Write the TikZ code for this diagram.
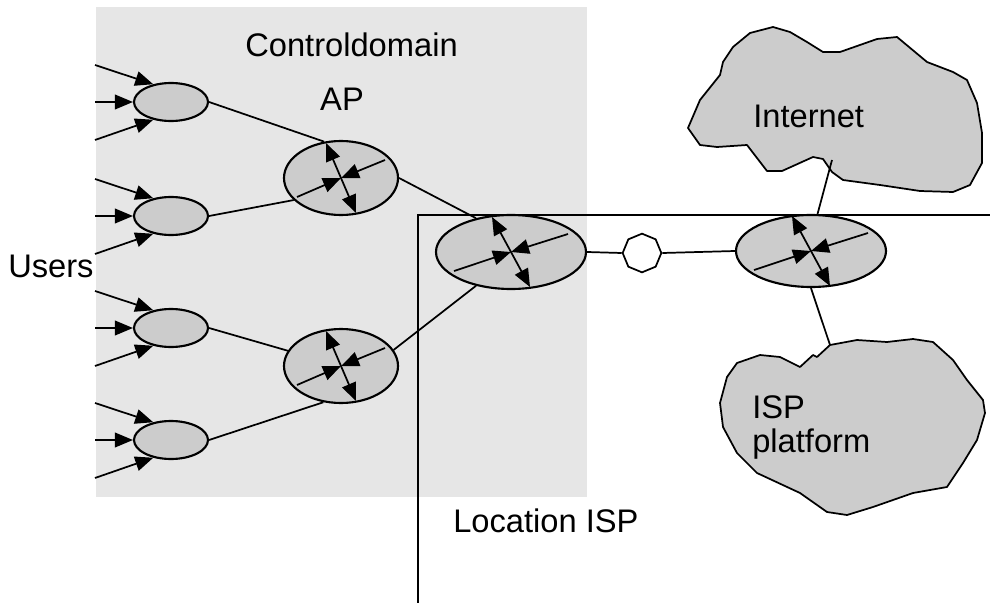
\documentclass[tikz,border=0pt]{standalone}
\usepackage{fontspec}
\setmainfont{Liberation Sans}
\usetikzlibrary{arrows.meta,shapes.geometric}
\definecolor{domaingray}{HTML}{E6E6E6}
\definecolor{nodegray}{HTML}{CCCCCC}

% Router symbol: two inward arrows on a slant and one steep double arrow
% #1 node name, #2 reach of the slanted arrows, #3 reach of the steep arrow
\newcommand\routerglyph[3]{%
  \begin{scope}[shift={(#1.center)}]
    \draw[link,tip] (-#2,19) -- (0,0);
    \draw[link,tip] (#2,-18) -- (0,0);
    \draw[link,twotip] (-#3,-35) -- (#3,35);
  \end{scope}}

\begin{document}
\begin{tikzpicture}[x=0.75pt,y=-0.75pt,
  link/.style={line width=1.3pt},
  tip/.style={-{Triangle[length=13.5pt,width=11pt]}},
  twotip/.style={{Triangle[length=13.5pt,width=11pt]}-{Triangle[length=13.5pt,width=11pt]}},
  hop/.style={ellipse, draw, line width=1.6pt, fill=nodegray, inner sep=0pt},
  usernode/.style={hop, minimum width=55.5pt, minimum height=28.5pt},
  apnode/.style={hop, minimum width=85.5pt, minimum height=55.5pt},
  corenode/.style={hop, minimum width=112.5pt, minimum height=55.5pt},
  cloudshape/.style={draw, line width=1.3pt, fill=nodegray, line join=round},
  txt/.style={font=\fontsize{24.5}{29}\selectfont, inner sep=0pt}
]
\useasboundingbox (0,0) rectangle (990,603);

% control domain area
\fill[domaingray] (96,7) rectangle (587,497);

% border of the ISP location
\coordinate (locend) at (990,215);
\coordinate (loccorner) at (418,215);
\coordinate (locbottom) at (418,603);
\draw[link] (locend) -- (loccorner) -- (locbottom);

% clouds
\draw[cloudshape] (688,128) -- (700,145) -- (717,147) -- (747,145) -- (767,171)
  -- (782,171) -- (813,157) -- (823,159) -- (832,172) -- (843,180) -- (880,185)
  -- (920,191) -- (953,192) -- (970,185) -- (982,163) -- (982,133) -- (977,103)
  -- (967,80) -- (953,72) -- (927,62) -- (897,37) -- (877,39) -- (840,52)
  -- (823,52) -- (807,42) -- (790,32) -- (773,27) -- (750,33) -- (733,47)
  -- (723,62) -- (720,75) -- (700,100) -- cycle;
\coordinate (inetlink) at (832,160);

\draw[cloudshape] (830,345) -- (857,340) -- (887,342) -- (913,339) -- (933,342)
  -- (953,360) -- (967,380) -- (983,400) -- (985,413) -- (977,440) -- (963,463)
  -- (947,487) -- (913,493) -- (873,507) -- (847,515) -- (827,512) -- (800,493)
  -- (757,473) -- (737,453) -- (723,427) -- (720,403) -- (727,377) -- (737,363)
  -- (760,355) -- (780,357) -- (800,367) -- (813,355) -- (817,357) -- cycle;
\coordinate (isplink) at (830,345);

% user access nodes with their incoming lines
\foreach \i/\cy in {1/102,2/216,3/328,4/440}{
  \node[usernode] (u\i) at (171,\cy) {};
  \coordinate (in\i t) at (95,\cy-37);
  \coordinate (in\i m) at (95,\cy);
  \coordinate (in\i b) at (95,\cy+38);
  \draw[link,tip] (in\i t) -- (u\i.135);
  \draw[link,tip] (in\i m) -- (u\i.west);
  \draw[link,tip] (in\i b) -- (u\i.225);
}

% routers
\node[apnode] (ap1) at (341,178) {};
\node[apnode] (ap2) at (341,366) {};
\node[corenode] (isp) at (511,252) {};
\node[corenode, minimum height=54pt] (gw) at (811,251) {};
\node[regular polygon, regular polygon sides=8, shape border rotate=22.5,
      draw, line width=1.3pt, fill=white, inner sep=0pt, minimum size=29pt]
      (oct) at (642,253) {};

% links
\draw[link] (u1.east) -- (ap1.115);
\draw[link] (u2.east) -- (ap1.205);
\draw[link] (u3.east) -- (ap2.164);
\draw[link] (u4.east) -- (ap2.244);
\draw[link] (ap1.east) -- (isp.136);
\draw[link] (ap2.17) -- (isp.224);
\draw[link] (isp.east) -- (oct.west);
\draw[link] (oct.east) -- (gw.west);
\draw[link] (gw.80) -- (inetlink);
\draw[link] (gw.south) -- (isplink);

% router symbols
\routerglyph{ap1}{44}{15}
\routerglyph{ap2}{44}{15}
\routerglyph{isp}{57}{19}
\routerglyph{gw}{57}{19}

% labels
\node[txt, anchor=base west] (users) at (8,277) {Users};
\node[txt, anchor=base west] (ctrl) at (245,56) {Controldomain};
\node[txt, anchor=base] (aplabel) at (342,110) {AP};
\node[txt, anchor=base west] (inetlabel) at (753,127) {Internet};
\node[txt, anchor=base west] (isplabel) at (752,418) {ISP};
\node[txt, anchor=base west] (platlabel) at (752,452) {platform};
\node[txt, anchor=base west] (loclabel) at (453,532) {Location ISP};
\end{tikzpicture}
\end{document}
